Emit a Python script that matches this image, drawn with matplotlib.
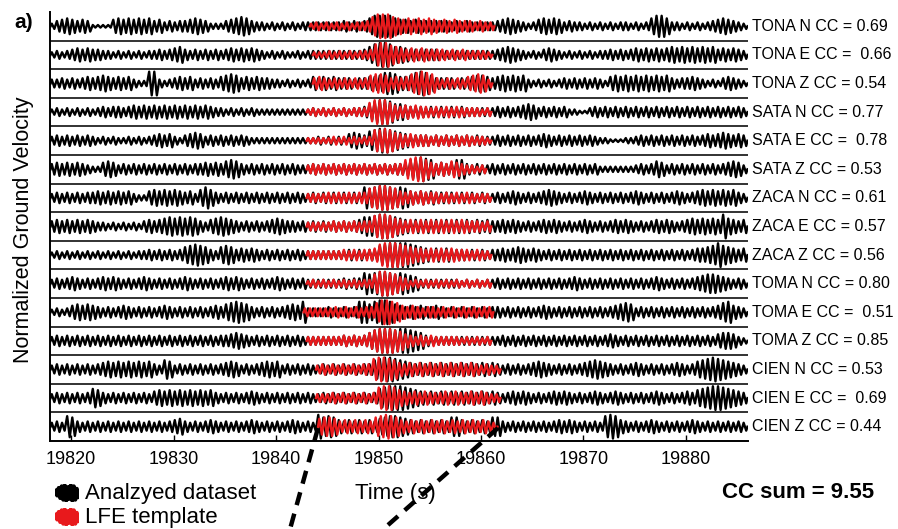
import numpy as np
import matplotlib
matplotlib.use("Agg")
import matplotlib.pyplot as plt
from matplotlib.lines import Line2D

plt.rcParams["font.family"] = ["Liberation Sans", "DejaVu Sans"]

# rows top to bottom
stations = ["TONA N", "TONA E", "TONA Z", "SATA N", "SATA E", "SATA Z",
            "ZACA N", "ZACA E", "ZACA Z", "TOMA N", "TOMA E", "TOMA Z",
            "CIEN N", "CIEN E", "CIEN Z"]
cc_labels = ["0.69", " 0.66", "0.54", "0.77", " 0.78", "0.53", "0.61", "0.57",
             "0.56", "0.80", " 0.51", "0.85", "0.53", " 0.69", "0.44"]
cc_sum = 9.55

# envelope of each trace, one digit (0-9) per 0.5 s cycle, from t0 to t0 + 68 s
t0 = 19818.0
black_amps = [
    ("2" "4565454" "1111" "5656565645" "3434" "45654" "222" "4567643" "3232323233" "33333343434" "688886"
     "5545444444343433333" "45654" "323" "56565" "3433" "2323232332323" "6886" "33232323" "45654" "32"),
    ("2323" "4545443" "323232323343" "4564" "3434343" "4545454" "3232322323" "33333333334" "689986"
     "6544444433333333333" "45654" "3232" "454" "323232323" "34343" "4545454" "5656565656" "454543"),
    ("334343" "4545654545" "322" "99" "323" "4545" "34343" "5676" "4545443" "3232323" "54545444344556887"
     "55" "68986" "4444344" "5665" "4" "565656" "3232323" "43434343" "2" "565656565656" "434" "454" "3232" "454" "32"),
    ("2323232323434" "43454545454545454543" "32323232" "222222222" "232323232334" "689986"
     "654443434343433333" "343434" "565" "343434" "2211" "3434343434343434343434343434343"),
    ("343434343" "23232232323" "4545" "32" "4565" "343434343" "22222222222" "22323232" "565" "4" "789987"
     "654444343434343433" "343434343454343434343" "2211122" "3434343434343" "454565454"),
    ("45454543" "22" "565" "3434343" "434343434" "45454" "676" "4343434343433" "343434343434343434"
     "45" "78987" "4545" "77" "4343" "3434343434343434343434" "2222222" "3434" "65" "3434343434345653"),
    ("34343434" "45454545" "322" "565656545" "3" "686" "434343434343434343" "34343434343" "8" "789987"
     "87" "5454544443434343" "3434543434" "5654343454" "3434343454" "3434345434" "56565656" "43"),
    ("4545454543" "32323232" "4545" "6767676" "43" "56765" "434343" "45654" "434" "34343434345" "7" "789987"
     "6545454545454545454" "4545434345" "4543434543" "4345454343" "4545434" "5656565" "9" "6545"),
    ("232323232323232323" "34343434" "67876" "43" "676" "45454343434343" "33333333434344" "7899"
     "99876" "54545444343434" "454565454" "3434343434343434343434343434345" "567" "9" "76545"),
    ("3434543434" "5454343454" "3434345434" "3434545434" "3434543434" "33333334344" "8" "789987"
     "8765" "33333333232323" "3434343434" "3434345434" "3434343434" "3454343434" "567765" "4343"),
    ("2323" "56565" "4343454343" "4345434343" "43454" "67876" "4343434" "565" "8" "3333433434" "88" "689986"
     "5454544543434343434" "43434343454343434343434" "5676" "3434343434343434" "5785" "43"),
    ("3434343434343434343434343434343434" "45654" "34343434343" "333333343434" "689998"
     "99876" "43333333333333" "3434343434" "3434343434" "3454343434" "3434343434" "343" "5665" "32"),
    ("3434343434" "5656565656" "43" "76" "3434343434" "565" "3434" "5656" "3434343" "34343434344" "78998"
     "765454545454545454543" "434345654343434" "56765" "43434543434345434" "67898765" "43"),
    ("34343434" "76" "4343434343" "565656565656" "434343454343434343" "43" "343434343434" "7899"
     "9876" "54545454545454543" "4545434345" "4543434543" "4543434345" "4343454" "67899876" "54"),
    ("343" "87" "4343434343434343434" "56" "4343454343" "4345434343" "454343" "9" "787" "54545454" "6788"
     "7654545454" "77" "545454" "77" "43434343434545434343" "898" "5434345434343454343434343"),
]

red_start = [19843.3, 19843.6, 19843.6, 19843.0, 19843.0, 19843.0, 19843.0, 19843.0,
             19843.0, 19843.0, 19842.7, 19843.0, 19843.9, 19843.9, 19844.1]
red_amps = [
    "232323232334799976565656545454443433",
    "22232323233489976545454444343433332",
    "45434343434677645457898743434356763",
    "232323232333799975454544343434333323",
    "222223232323388986545444343434343332",
    "34343434343434343447899754546543323",
    "333343434344789987545454443434343333",
    "333334343434489986545454545454544434",
    "333333343434458999876554545454443433",
    "232323232323379987542323232323232323",
    "3333334343434479987545434434343434344",
    "333333343434689998754343433333232323",
    "343434343448998754545454545454543433",
    "333434343434899865454544454544545433",
    "67764545454789875454545454545454543",
]

legend_wiggle = [3, 6, 8, 9, 7, 9, 8, 5]

amp_scale = 0.046
n = len(stations)


def wiggle(start, amps):
    t, y = [start], [0.0]
    for i, ch in enumerate(amps):
        a = int(ch) * amp_scale
        t += [start + i * 0.5 + 0.125, start + i * 0.5 + 0.375]
        y += [a, -a]
    t.append(start + len(amps) * 0.5)
    y.append(0.0)
    return np.array(t), np.array(y)


fig = plt.figure(figsize=(8.98, 5.29), dpi=100)
ax = fig.add_axes([50 / 898, 1 - 441 / 529, 698 / 898, 429 / 529])

for k in range(n):
    base = n - 1 - k
    t, y = wiggle(t0, black_amps[k])
    ax.plot(t, y + base, color="black", lw=1.7, zorder=3)
    tr, yr = wiggle(red_start[k], red_amps[k])
    ax.plot(tr, yr + base, color="#e8191c", lw=1.7, zorder=4)
    ax.text(1.006, (base + 0.5) / n, f"{stations[k]} CC = {cc_labels[k]}",
            transform=ax.transAxes, fontsize=11.5, va="center", ha="left")
    if base > 0:
        ax.axhline(base - 0.5, color="#222222", lw=1.3, zorder=2)

ax.set_xlim(19817.95, 19886.05)
ax.set_ylim(-0.5, n - 0.5)
ax.set_yticks([])
ax.set_xticks(range(19820, 19881, 10))
ax.tick_params(axis="x", direction="in", length=4, width=1, labelsize=13, pad=7)
for s in ["top", "right"]:
    ax.spines[s].set_visible(False)
for s in ["left", "bottom"]:
    ax.spines[s].set_linewidth(1.4)

fig.text(24 / 898, 1 - 230 / 529, "Normalized Ground Velocity", rotation=90,
         fontsize=15.5, ha="center", va="center")
fig.text(24 / 898, 1 - 23 / 529, "a)", fontsize=15, fontweight="bold",
         ha="center", va="center")
fig.text(395 / 898, 1 - 493 / 529, "Time (s)", fontsize=16, ha="center", va="center")
fig.text(798 / 898, 1 - 493 / 529, f"CC sum = {cc_sum:.2f}", fontsize=16,
         fontweight="bold", ha="center", va="center")
fig.text(85 / 898, 1 - 493 / 529, "Analzyed dataset", fontsize=16, va="center")
fig.text(85 / 898, 1 - 517 / 529, "LFE template", fontsize=16, va="center")

for yc, col in [(493, "black"), (517, "#e8191c")]:
    lax = fig.add_axes([55 / 898, 1 - (yc + 9) / 529, 24 / 898, 18 / 529])
    lt, ly = wiggle(0, "".join(str(v) for v in legend_wiggle))
    lax.plot(lt, ly, color=col, lw=3)
    lax.set_xlim(0, len(legend_wiggle) * 0.5)
    lax.set_ylim(-0.5, 0.5)
    lax.axis("off")

# dashed zoom lines below the panel
for (x0, y0), (x1, y1) in [((318, 428), (287, 540)), ((498, 428), (371, 540))]:
    fig.add_artist(Line2D([x0 / 898, x1 / 898], [1 - y0 / 529, 1 - y1 / 529],
                          transform=fig.transFigure, color="black", lw=3.2,
                          linestyle=(0, (3, 2)), zorder=10))

fig.savefig("out.png", dpi=100)
